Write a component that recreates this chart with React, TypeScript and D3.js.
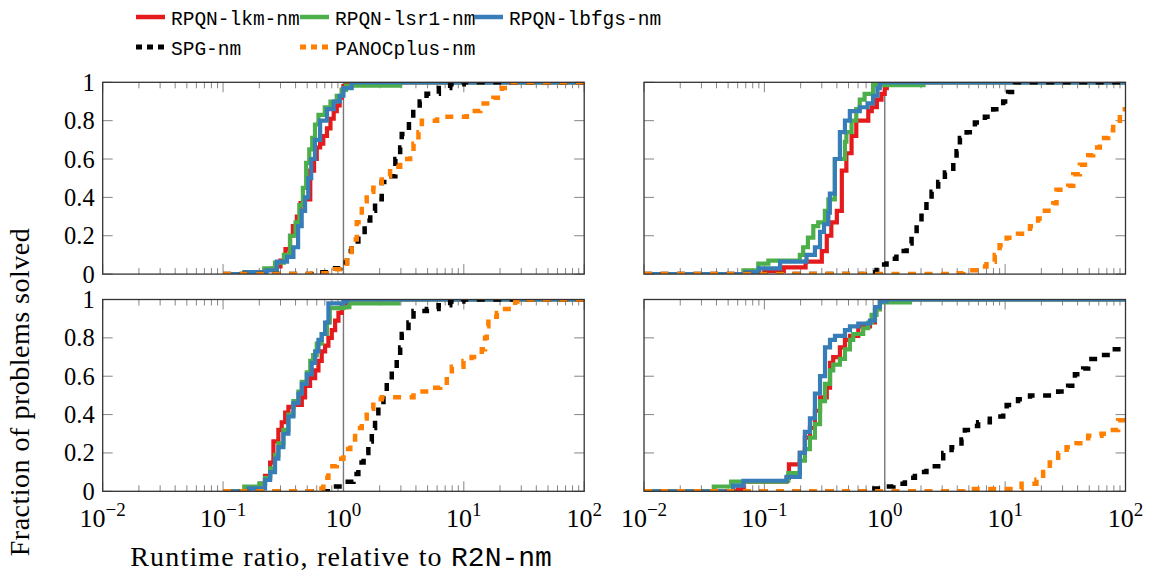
import React from "react"
import * as d3 from "d3"

// legend / series
const seriesNames = ["RPQN-lkm-nm", "RPQN-lsr1-nm", "RPQN-lbfgs-nm", "SPG-nm", "PANOCplus-nm"]
const seriesColors = ["#e41a1c", "#4daf4a", "#377eb8", "#000000", "#ff7f00"]
const seriesDashed = [false, false, false, true, true]

const xTickExps = [-2, -1, 0, 1, 2]
const yTicks = [0, 0.2, 0.4, 0.6, 0.8, 1]
const yTickLabels = ["0", "0.2", "0.4", "0.6", "0.8", "1"]

// top-left panel
const tlLkmX = [0.1, 0.157, 0.22, 0.26, 0.28, 0.3, 0.33, 0.36, 0.38, 0.41, 0.44, 0.47, 0.5, 0.53, 0.57, 0.6, 0.64, 0.68, 0.73, 0.78, 0.83, 0.88, 0.93, 0.97, 1.0, 1.05]
const tlLkmY = [0, 0.01, 0.02, 0.03, 0.04, 0.07, 0.13, 0.2, 0.25, 0.3, 0.37, 0.39, 0.39, 0.54, 0.6, 0.66, 0.68, 0.72, 0.76, 0.81, 0.85, 0.88, 0.92, 0.96, 0.98, 1.0]
const tlLsr1X = [0.1, 0.15, 0.22, 0.27, 0.32, 0.36, 0.4, 0.43, 0.46, 0.49, 0.52, 0.55, 0.58, 0.62, 0.7, 0.78, 0.88, 0.97, 1.05, 2.96]
const tlLsr1Y = [0, 0.01, 0.03, 0.06, 0.1, 0.2, 0.27, 0.36, 0.45, 0.58, 0.65, 0.71, 0.78, 0.83, 0.87, 0.9, 0.93, 0.96, 0.983, 1.0]
const tlLbfgsX = [0.1, 0.152, 0.23, 0.28, 0.34, 0.384, 0.42, 0.45, 0.48, 0.51, 0.54, 0.58, 0.64, 0.73, 0.83, 0.93, 1.0, 1.17]
const tlLbfgsY = [0, 0.01, 0.02, 0.065, 0.09, 0.14, 0.25, 0.33, 0.4, 0.5, 0.6, 0.7, 0.8, 0.86, 0.9, 0.93, 0.97, 1.0]
const tlSpgX = [0.1, 0.6, 0.78, 0.94, 1.07, 1.17, 1.33, 1.5, 1.67, 1.83, 2.08, 2.3, 2.7, 2.96, 3.05, 3.5, 3.8, 4.3, 4.9, 6.2, 7.7, 10]
const tlSpgY = [0, 0.01, 0.03, 0.06, 0.12, 0.17, 0.22, 0.28, 0.33, 0.39, 0.48, 0.51, 0.6, 0.66, 0.73, 0.8, 0.86, 0.9, 0.94, 0.97, 0.99, 1.0]
const tlPanocX = [0.1, 0.55, 0.85, 1.07, 1.17, 1.29, 1.42, 1.56, 1.77, 2.08, 2.44, 2.96, 3.58, 3.82, 4.2, 4.48, 6.0, 10.6, 13.7, 17.6, 20.7, 24.3]
const tlPanocY = [0, 0.005, 0.025, 0.1, 0.18, 0.27, 0.38, 0.43, 0.45, 0.51, 0.56, 0.6, 0.63, 0.68, 0.74, 0.8, 0.82, 0.85, 0.89, 0.92, 0.97, 1.0]

// top-right panel
const trLkmX = [0.01, 0.1, 0.145, 0.22, 0.3, 0.33, 0.36, 0.4, 0.44, 0.48, 0.53, 0.58, 0.73, 0.78, 0.86, 0.94, 1.0, 1.04]
const trLkmY = [0, 0.015, 0.035, 0.065, 0.12, 0.2, 0.27, 0.33, 0.54, 0.63, 0.72, 0.8, 0.85, 0.87, 0.91, 0.94, 0.97, 1.0]
const trLsr1X = [0.01, 0.067, 0.089, 0.108, 0.197, 0.21, 0.23, 0.255, 0.28, 0.318, 0.34, 0.385, 0.467, 0.48, 0.53, 0.58, 0.62, 0.68, 0.8, 2.1]
const trLsr1Y = [0, 0.02, 0.055, 0.07, 0.1, 0.14, 0.19, 0.25, 0.27, 0.33, 0.39, 0.6, 0.69, 0.74, 0.8, 0.86, 0.91, 0.94, 0.985, 1.0]
const trLbfgsX = [0.01, 0.07, 0.09, 0.135, 0.224, 0.263, 0.29, 0.313, 0.34, 0.35, 0.385, 0.424, 0.467, 0.513, 0.62, 0.72, 0.8, 0.87, 0.91]
const trLbfgsY = [0, 0.01, 0.03, 0.065, 0.1, 0.14, 0.22, 0.26, 0.32, 0.42, 0.6, 0.74, 0.8, 0.85, 0.87, 0.89, 0.93, 0.97, 1.0]
const trSpgX = [0.01, 0.68, 0.855, 1.035, 1.25, 1.52, 1.67, 1.84, 2.02, 2.22, 2.45, 2.78, 3.16, 3.71, 3.95, 4.21, 4.79, 5.61, 6.79, 7.96, 9.64, 10.6, 12.1]
const trSpgY = [0, 0.01, 0.05, 0.08, 0.12, 0.16, 0.21, 0.26, 0.33, 0.38, 0.43, 0.48, 0.53, 0.59, 0.64, 0.71, 0.74, 0.79, 0.82, 0.86, 0.9, 0.95, 1.0]
const trPanocX = [0.01, 3.7, 4.5, 6.0, 7.0, 8.2, 9.0, 10.3, 12.8, 16.1, 18.8, 21.4, 25.1, 26.7, 33.4, 36.8, 41.8, 49, 53.9, 61.2, 71.8, 79, 89.8]
const trPanocY = [0, 0.005, 0.02, 0.04, 0.065, 0.1, 0.15, 0.19, 0.21, 0.25, 0.29, 0.33, 0.37, 0.44, 0.46, 0.52, 0.57, 0.62, 0.66, 0.71, 0.75, 0.8, 0.86]

// bottom-left panel
const blLkmX = [0.1, 0.157, 0.203, 0.223, 0.246, 0.262, 0.288, 0.307, 0.328, 0.349, 0.384, 0.451, 0.48, 0.528, 0.582, 0.62, 0.66, 0.704, 0.75, 0.8, 0.853, 0.909, 0.968, 1.07]
const blLkmY = [0, 0.015, 0.04, 0.08, 0.15, 0.26, 0.32, 0.36, 0.41, 0.44, 0.45, 0.49, 0.55, 0.59, 0.63, 0.68, 0.73, 0.76, 0.8, 0.84, 0.89, 0.93, 0.96, 1.0]
const blLsr1X = [0.1, 0.15, 0.2, 0.223, 0.246, 0.27, 0.288, 0.317, 0.349, 0.384, 0.423, 0.451, 0.496, 0.53, 0.56, 0.6, 0.66, 0.73, 0.77, 1.0, 1.12, 2.86]
const blLsr1Y = [0, 0.025, 0.04, 0.07, 0.12, 0.19, 0.25, 0.32, 0.4, 0.47, 0.52, 0.57, 0.62, 0.68, 0.71, 0.77, 0.82, 0.88, 0.955, 0.96, 0.98, 1.0]
const blLbfgsX = [0.1, 0.163, 0.223, 0.246, 0.27, 0.288, 0.317, 0.349, 0.384, 0.423, 0.451, 0.496, 0.545, 0.582, 0.62, 0.66, 0.704, 0.75, 1.0, 1.07]
const blLbfgsY = [0, 0.015, 0.06, 0.1, 0.17, 0.23, 0.3, 0.39, 0.46, 0.51, 0.56, 0.61, 0.67, 0.73, 0.79, 0.82, 0.88, 0.98, 0.99, 1.0]
const blSpgX = [0.1, 0.83, 1.03, 1.21, 1.33, 1.47, 1.61, 1.72, 1.83, 1.95, 2.15, 2.29, 2.52, 2.77, 2.96, 3.05, 3.47, 3.82, 4.93, 6.17, 7.7, 9.9]
const blSpgY = [0, 0.025, 0.05, 0.09, 0.15, 0.2, 0.26, 0.33, 0.39, 0.45, 0.52, 0.58, 0.63, 0.69, 0.75, 0.82, 0.88, 0.94, 0.95, 0.97, 0.99, 1.0]
const blPanocX = [0.1, 0.56, 0.68, 0.75, 0.88, 1.0, 1.14, 1.25, 1.42, 1.56, 1.77, 2.08, 3.82, 5.25, 6.36, 7.22, 7.95, 9.93, 11.6, 14.1, 15.0, 15.5, 16.0, 18.8, 22.0, 26.7, 29.4]
const blPanocY = [0, 0.015, 0.07, 0.13, 0.17, 0.22, 0.27, 0.33, 0.38, 0.43, 0.48, 0.49, 0.52, 0.54, 0.55, 0.6, 0.65, 0.68, 0.7, 0.74, 0.8, 0.86, 0.91, 0.93, 0.95, 0.99, 1.0]

// bottom-right panel
const brLkmX = [0.01, 0.06, 0.067, 0.153, 0.16, 0.197, 0.217, 0.239, 0.263, 0.29, 0.33, 0.351, 0.373, 0.424, 0.467, 0.514, 0.603, 0.754, 0.829, 0.912, 1.035]
const brLkmY = [0, 0.01, 0.05, 0.07, 0.14, 0.2, 0.28, 0.33, 0.42, 0.49, 0.54, 0.67, 0.7, 0.75, 0.79, 0.81, 0.86, 0.88, 0.95, 0.99, 1.0]
const brLsr1X = [0.01, 0.038, 0.053, 0.15, 0.158, 0.197, 0.217, 0.239, 0.263, 0.29, 0.319, 0.351, 0.373, 0.424, 0.467, 0.514, 0.547, 0.662, 0.729, 0.778, 0.855, 0.912, 1.62]
const brLsr1Y = [0, 0.025, 0.05, 0.055, 0.095, 0.16, 0.22, 0.28, 0.35, 0.47, 0.56, 0.63, 0.66, 0.69, 0.74, 0.79, 0.82, 0.85, 0.88, 0.92, 0.95, 0.985, 1.0]
const brLbfgsX = [0.01, 0.055, 0.067, 0.153, 0.197, 0.217, 0.239, 0.263, 0.29, 0.319, 0.351, 0.386, 0.467, 0.514, 0.603, 0.754, 0.829, 0.912, 1.035]
const brLbfgsY = [0, 0.03, 0.055, 0.075, 0.2, 0.31, 0.38, 0.51, 0.6, 0.75, 0.79, 0.81, 0.84, 0.86, 0.875, 0.89, 0.96, 0.99, 1.0]
const brSpgX = [0.01, 0.75, 0.97, 1.18, 1.47, 1.78, 2.22, 2.78, 3.06, 3.59, 4.34, 4.63, 5.26, 5.97, 7.46, 9.64, 10.3, 12.8, 16.1, 27.6, 33.4, 38, 44.5, 49, 61.2, 74.1, 92.7]
const brSpgY = [0, 0.015, 0.025, 0.04, 0.07, 0.1, 0.13, 0.15, 0.2, 0.23, 0.27, 0.32, 0.34, 0.36, 0.39, 0.41, 0.45, 0.48, 0.5, 0.52, 0.55, 0.61, 0.64, 0.69, 0.71, 0.74, 0.76]
const brPanocX = [0.01, 4.5, 13.7, 18.2, 20.7, 23.5, 27.6, 32.4, 39.2, 49, 63.2, 74.1, 86.9]
const brPanocY = [0, 0.012, 0.04, 0.06, 0.1, 0.15, 0.2, 0.23, 0.25, 0.29, 0.3, 0.32, 0.37]

const panels = [
  { left: 102.7, top: 82.3, yLabels: true, xLabels: false,
    curves: [[tlLkmX, tlLkmY], [tlLsr1X, tlLsr1Y], [tlLbfgsX, tlLbfgsY], [tlSpgX, tlSpgY], [tlPanocX, tlPanocY]] },
  { left: 644, top: 82.3, yLabels: false, xLabels: false,
    curves: [[trLkmX, trLkmY], [trLsr1X, trLsr1Y], [trLbfgsX, trLbfgsY], [trSpgX, trSpgY], [trPanocX, trPanocY]] },
  { left: 102.7, top: 299.5, yLabels: true, xLabels: true,
    curves: [[blLkmX, blLkmY], [blLsr1X, blLsr1Y], [blLbfgsX, blLbfgsY], [blSpgX, blSpgY], [blPanocX, blPanocY]] },
  { left: 644, top: 299.5, yLabels: false, xLabels: true,
    curves: [[brLkmX, brLkmY], [brLsr1X, brLsr1Y], [brLbfgsX, brLbfgsY], [brSpgX, brSpgY], [brPanocX, brPanocY]] },
]

const W = 481.5
const H = 191.8
const serif = "'Liberation Serif', serif"
const mono = "'Liberation Mono', monospace"

const x = d3.scaleLog().domain([0.01, 100]).range([0, W])
const y = d3.scaleLinear().domain([0, 1]).range([H, 0])
const line = d3.line<number[]>().x(d => x(d[0])).y(d => y(d[1])).curve(d3.curveStepAfter)

const minorTicks: number[] = []
for (let e = -2; e < 2; e++) for (let m = 2; m <= 9; m++) minorTicks.push(m * Math.pow(10, e))

function Panel({ p, i }: { p: any; i: number }) {
  const clipId = "clip" + i
  return (
    <g transform={`translate(${p.left},${p.top})`}>
      <clipPath id={clipId}><rect width={W} height={H} /></clipPath>
      <g stroke="#666" strokeWidth={0.8}>
        {minorTicks.map((t, k) => (
          <g key={k}>
            <line x1={x(t)} x2={x(t)} y1={H} y2={H - 6} />
            <line x1={x(t)} x2={x(t)} y1={0} y2={6} />
          </g>
        ))}
        {xTickExps.map(e => (
          <g key={e}>
            <line x1={x(Math.pow(10, e))} x2={x(Math.pow(10, e))} y1={H} y2={H - 10} />
            <line x1={x(Math.pow(10, e))} x2={x(Math.pow(10, e))} y1={0} y2={10} />
          </g>
        ))}
        {yTicks.map(t => (
          <g key={t}>
            <line x1={0} x2={10} y1={y(t)} y2={y(t)} />
            <line x1={W} x2={W - 10} y1={y(t)} y2={y(t)} />
          </g>
        ))}
      </g>
      <line x1={x(1)} x2={x(1)} y1={0} y2={H} stroke="#777" strokeWidth={1.4} />
      <g clipPath={`url(#${clipId})`}>
        {p.curves.map((c: number[][], k: number) => {
          const pts = c[0].map((v, j) => [v, c[1][j]])
          pts.push([x.domain()[1], c[1][c[1].length - 1]])
          return (
            <path key={k} d={line(pts) || ""} fill="none" stroke={seriesColors[k]}
              strokeWidth={seriesDashed[k] ? 4.5 : 4.2}
              strokeDasharray={seriesDashed[k] ? "8 8.5" : undefined} />
          )
        })}
      </g>
      <rect width={W} height={H} fill="none" stroke="#333" strokeWidth={1.3} />
      {p.yLabels && yTicks.map((t, k) => (
        <text key={t} x={-8} y={y(t) + 8.5} textAnchor="end" fontFamily={serif} fontSize={24.5}>{yTickLabels[k]}</text>
      ))}
      {p.xLabels && xTickExps.map(e => (
        <text key={e} x={x(Math.pow(10, e))} y={H + 36} textAnchor="middle" fontFamily={serif} fontSize={26}>
          10<tspan dy={-11} fontSize={19}>{e < 0 ? "\u2212" + Math.abs(e) : String(e)}</tspan>
        </text>
      ))}
    </g>
  )
}

function Legend() {
  const items = [
    { k: 0, sx: 136, ty: 17 }, { k: 1, sx: 300, ty: 17 }, { k: 2, sx: 474, ty: 17 },
    { k: 3, sx: 136, ty: 47 }, { k: 4, sx: 300, ty: 47 },
  ]
  return (
    <g>
      {items.map(it => (
        <g key={it.k}>
          <line x1={it.sx} x2={it.sx + 29} y1={it.ty} y2={it.ty} stroke={seriesColors[it.k]}
            strokeWidth={seriesDashed[it.k] ? 5 : 4.5}
            strokeDasharray={seriesDashed[it.k] ? "6 5" : undefined} />
          <text x={it.sx + 35} y={it.ty + 7.5} fontFamily={mono} fontSize={19.5}>{seriesNames[it.k]}</text>
        </g>
      ))}
    </g>
  )
}

export default function App() {
  return (
    <svg width={1153} height={574} style={{ position: "absolute", left: 0, top: 0, background: "#fff" }}>
      <Legend />
      {panels.map((p, i) => <Panel key={i} p={p} i={i} />)}
      <text transform="translate(29,392) rotate(-90)" textAnchor="middle" fontFamily={serif} fontSize={28} letterSpacing={0.5}>
        Fraction of problems solved
      </text>
      <text x={341} y={566} textAnchor="middle" fontFamily={serif} fontSize={28} letterSpacing={1.2}>
        Runtime ratio, relative to <tspan fontFamily={mono} letterSpacing={0}>R2N-nm</tspan>
      </text>
    </svg>
  )
}
